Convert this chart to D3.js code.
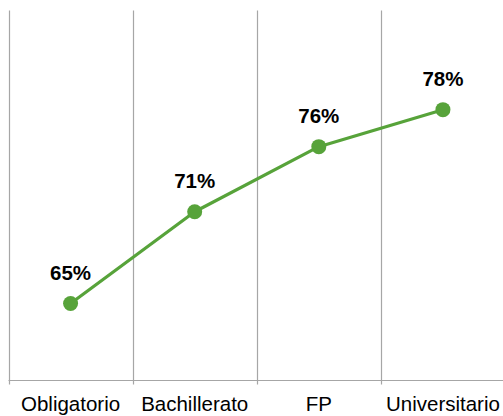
<!DOCTYPE html>
<html>
<head>
<meta charset="utf-8">
<script src="https://cdn.jsdelivr.net/npm/d3@7"></script>
<style>
html,body{margin:0;padding:0;background:#fff;}
svg{display:block;}
</style>
</head>
<body>
<svg id="chart" width="503" height="416"></svg>
<script>
const categories = ["Obligatorio", "Bachillerato", "FP", "Universitario"];
const values = [0.652, 0.714, 0.758, 0.783];
const labels = ["65%", "71%", "76%", "78%"];
const yDomain = [0.6, 0.85];

(function(){
const svg = d3.select("#chart");
const mLeft = 8.5, mRight = 505, mTop = 10.5, mBottom = 380.5;

const x = d3.scaleBand().domain(categories).range([mLeft, mRight]).paddingInner(0).paddingOuter(0);
const y = d3.scaleLinear().domain(yDomain).range([mBottom, mTop]);

const bounds = categories.map(c => x(c)).concat([x(categories[categories.length-1]) + x.bandwidth()]);
svg.append("g").selectAll("line").data(bounds).join("line")
  .attr("x1", d => Math.round(d) + 0.5).attr("x2", d => Math.round(d) + 0.5)
  .attr("y1", mTop).attr("y2", mBottom + 4)
  .attr("stroke", "#a6a6a6").attr("stroke-width", 1.2);

svg.append("line")
  .attr("x1", mLeft).attr("x2", mRight)
  .attr("y1", mBottom).attr("y2", mBottom)
  .attr("stroke", "#a6a6a6").attr("stroke-width", 1.2);

svg.append("g").selectAll("text").data(categories).join("text")
  .attr("x", d => x(d) + x.bandwidth()/2)
  .attr("y", 410.5)
  .attr("text-anchor", "middle")
  .attr("font-family", "Liberation Sans, Arial, sans-serif")
  .attr("font-size", 20.5)
  .attr("fill", "#000")
  .text(d => d);

const cx = (d, i) => x(categories[i]) + x.bandwidth()/2;

const line = d3.line().x((d, i) => cx(d, i)).y(d => y(d));
svg.append("path").datum(values)
  .attr("d", line)
  .attr("fill", "none")
  .attr("stroke", "#57a33a")
  .attr("stroke-width", 3.2)
  .attr("stroke-linejoin", "round");

svg.append("g").selectAll("circle").data(values).join("circle")
  .attr("cx", cx).attr("cy", d => y(d))
  .attr("r", 7.5)
  .attr("fill", "#57a33a");

svg.append("g").selectAll("text").data(values).join("text")
  .attr("x", cx)
  .attr("y", d => y(d) - 23.5)
  .attr("text-anchor", "middle")
  .attr("font-family", "Liberation Sans, Arial, sans-serif")
  .attr("font-weight", "bold")
  .attr("font-size", 20.5)
  .attr("fill", "#000")
  .text((d, i) => labels[i]);
})();
</script>
</body>
</html>
